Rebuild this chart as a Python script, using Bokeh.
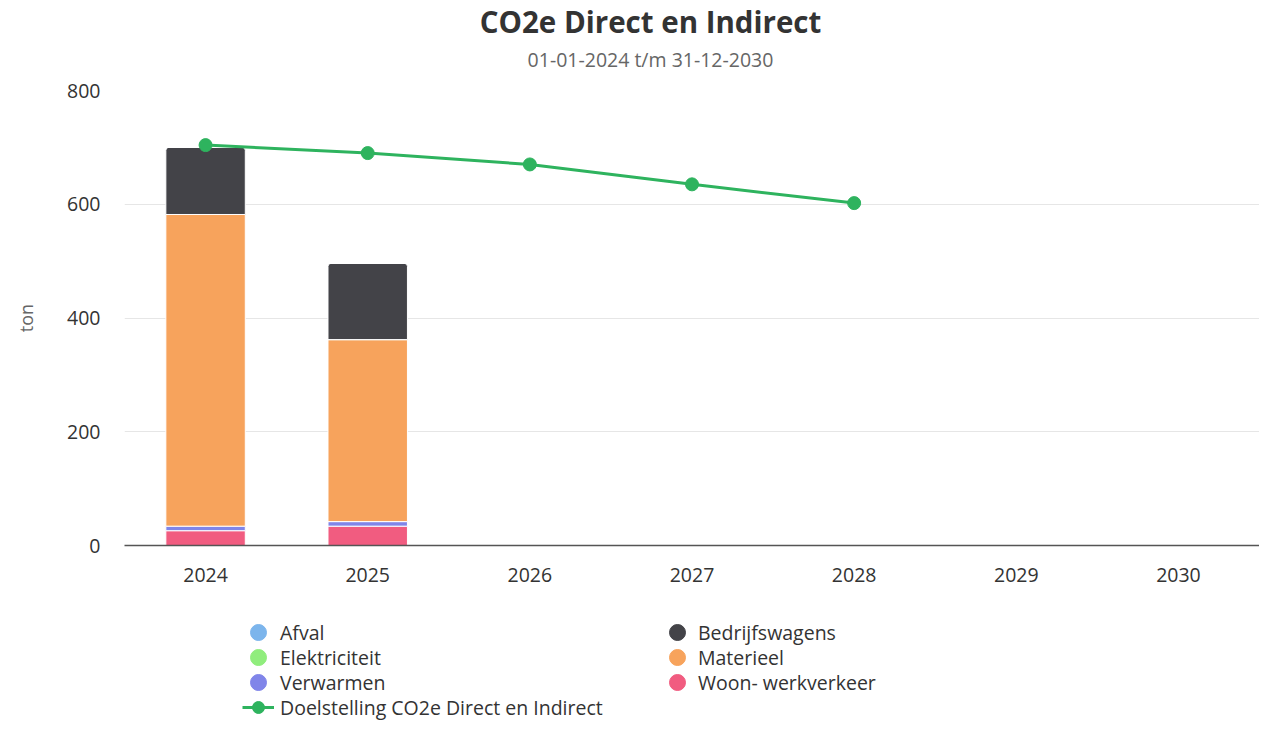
from bokeh.plotting import figure
from bokeh.layouts import column
from bokeh.models import (FactorRange, Range1d, FixedTicker, Label, Legend, LegendItem)
from bokeh.embed import file_html
from bokeh.resources import INLINE

years = ["2024", "2025", "2026", "2027", "2028", "2029", "2030"]
afval = [0, 0, 0, 0, 0, 0, 0]
bedrijfswagens = [118, 134, 0, 0, 0, 0, 0]
elektriciteit = [0, 0, 0, 0, 0, 0, 0]
materieel = [548, 320, 0, 0, 0, 0, 0]
verwarmen = [8, 8, 0, 0, 0, 0, 0]
woon_werkverkeer = [26, 34, 0, 0, 0, 0, 0]
doel_years = ["2024", "2025", "2026", "2027", "2028"]
doelstelling = [704, 690, 670, 635, 602]

title_text = "CO2e Direct en Indirect"
subtitle_text = "01-01-2024 t/m 31-12-2030"
doel_label = "Doelstelling CO2e Direct en Indirect"

colors = {
    "Afval": "#7cb5ec",
    "Bedrijfswagens": "#434348",
    "Elektriciteit": "#90ed7d",
    "Materieel": "#f7a35c",
    "Verwarmen": "#8085e9",
    "Woon- werkverkeer": "#f15c80",
}
green = "#2eb35e"
FONT = "Open Sans"
W = 1259
LEFT = 124
H_TITLE, H_MAIN, H_LEG = 76, 529, 116


def blank_fig(h):
    f = figure(width=W, height=h, x_range=Range1d(LEFT, W), y_range=Range1d(0, h),
               output_backend="svg", toolbar_location=None,
               x_axis_location=None, y_axis_location=None,
               min_border_left=LEFT, min_border_right=0, min_border_top=0, min_border_bottom=0)
    f.outline_line_color = None
    f.grid.visible = False
    return f


# ---------------- title strip ----------------
pt = blank_fig(H_TITLE)
pt.add_layout(Label(x=650, y=H_TITLE - 21, text=title_text, text_align="center", text_baseline="middle",
                    text_font=FONT, text_font_size="29.5px", text_font_style="bold", text_color="#333333"))
pt.add_layout(Label(x=650, y=H_TITLE - 59, text=subtitle_text, text_align="center", text_baseline="middle",
                    text_font=FONT, text_font_size="19.5px", text_color="#666666"))

# ---------------- main chart ----------------
p = figure(width=W, height=H_MAIN, x_range=FactorRange(*years), y_range=Range1d(0, 800),
           output_backend="svg", toolbar_location=None,
           min_border_left=LEFT, min_border_right=0, min_border_top=14, min_border_bottom=60)
p.outline_line_color = None

data = dict(years=years, Woon=woon_werkverkeer, Verwarmen=verwarmen,
            Materieel=materieel, Elektriciteit=elektriciteit,
            Bedrijfswagens=bedrijfswagens, Afval=afval)
stack_keys = ["Woon", "Verwarmen", "Materieel", "Elektriciteit", "Bedrijfswagens", "Afval"]
stack_cols = [colors["Woon- werkverkeer"], colors["Verwarmen"], colors["Materieel"],
              colors["Elektriciteit"], colors["Bedrijfswagens"], colors["Afval"]]
rs = p.vbar_stack(stack_keys, x="years", width=0.49, source=data, color=stack_cols,
                  line_color="white", line_width=1)
rs[4].glyph.border_radius = (3, 3, 0, 0)

p.line(doel_years, doelstelling, line_color=green, line_width=3)
p.scatter(doel_years, doelstelling, size=13, fill_color=green, line_color=green)

p.xgrid.grid_line_color = None
p.ygrid.grid_line_color = "#e6e6e6"
p.yaxis.ticker = FixedTicker(ticks=[0, 200, 400, 600, 800])
p.yaxis.axis_line_color = None
p.yaxis.major_tick_line_color = None
p.yaxis.major_tick_out = 0
p.yaxis.minor_tick_line_color = None
p.yaxis.major_label_text_font = FONT
p.yaxis.major_label_text_font_size = "19.5px"
p.yaxis.major_label_text_color = "#333333"
p.yaxis.major_label_standoff = 24
p.yaxis.axis_label = "ton"
p.yaxis.axis_label_text_font = FONT
p.yaxis.axis_label_text_font_size = "18px"
p.yaxis.axis_label_text_font_style = "normal"
p.yaxis.axis_label_text_color = "#666666"
p.yaxis.axis_label_standoff = 26

p.xaxis.axis_line_color = "#555555"
p.xaxis.axis_line_width = 1.5
p.xaxis.major_tick_line_color = None
p.xaxis.major_tick_out = 0
p.xaxis.minor_tick_line_color = None
p.xaxis.major_label_text_font = FONT
p.xaxis.major_label_text_font_size = "19.5px"
p.xaxis.major_label_text_color = "#333333"
p.xaxis.major_label_standoff = 22

# ---------------- legend strip ----------------
pl = blank_fig(H_LEG)
# legend swatches: single off-screen point so the legend can draw them
dummies = {}
for name, c in colors.items():
    dummies[name] = pl.scatter([-1000], [-1000], marker="circle", fill_color=c, line_color=c, size=16)
dl = pl.line([-1000, -999], [-1000, -1000], line_color=green, line_width=3)
ds = pl.scatter([-1000], [-1000], marker="circle", fill_color=green, line_color=green, size=12)


def one_item_legend(label, renderers, box_left, row_center, gw, gh, standoff):
    # row_center: px from top of the legend strip
    lg = Legend(items=[LegendItem(label=label, renderers=renderers)],
                location=(box_left - LEFT, H_LEG - (row_center + gh / 2)),
                glyph_width=gw, glyph_height=gh, label_standoff=standoff,
                padding=0, margin=0, spacing=0, border_line_color=None, background_fill_alpha=0,
                label_text_font=FONT, label_text_font_size="19.5px", label_text_color="#333333",
                label_height=20)
    pl.add_layout(lg, "center")


rows = [27, 52, 77, 102]
for i, n in enumerate(["Afval", "Elektriciteit", "Verwarmen"]):
    one_item_legend(n, [dummies[n]], 238, rows[i], 40, 40, 2)
for i, n in enumerate(["Bedrijfswagens", "Materieel", "Woon- werkverkeer"]):
    one_item_legend(n, [dummies[n]], 657, rows[i], 40, 40, 1)
one_item_legend(doel_label, [dl, ds], 242, rows[3], 32, 30, 6)

layout = column(pt, p, pl, spacing=0)
open("out.html", "w").write(file_html(layout, INLINE))
